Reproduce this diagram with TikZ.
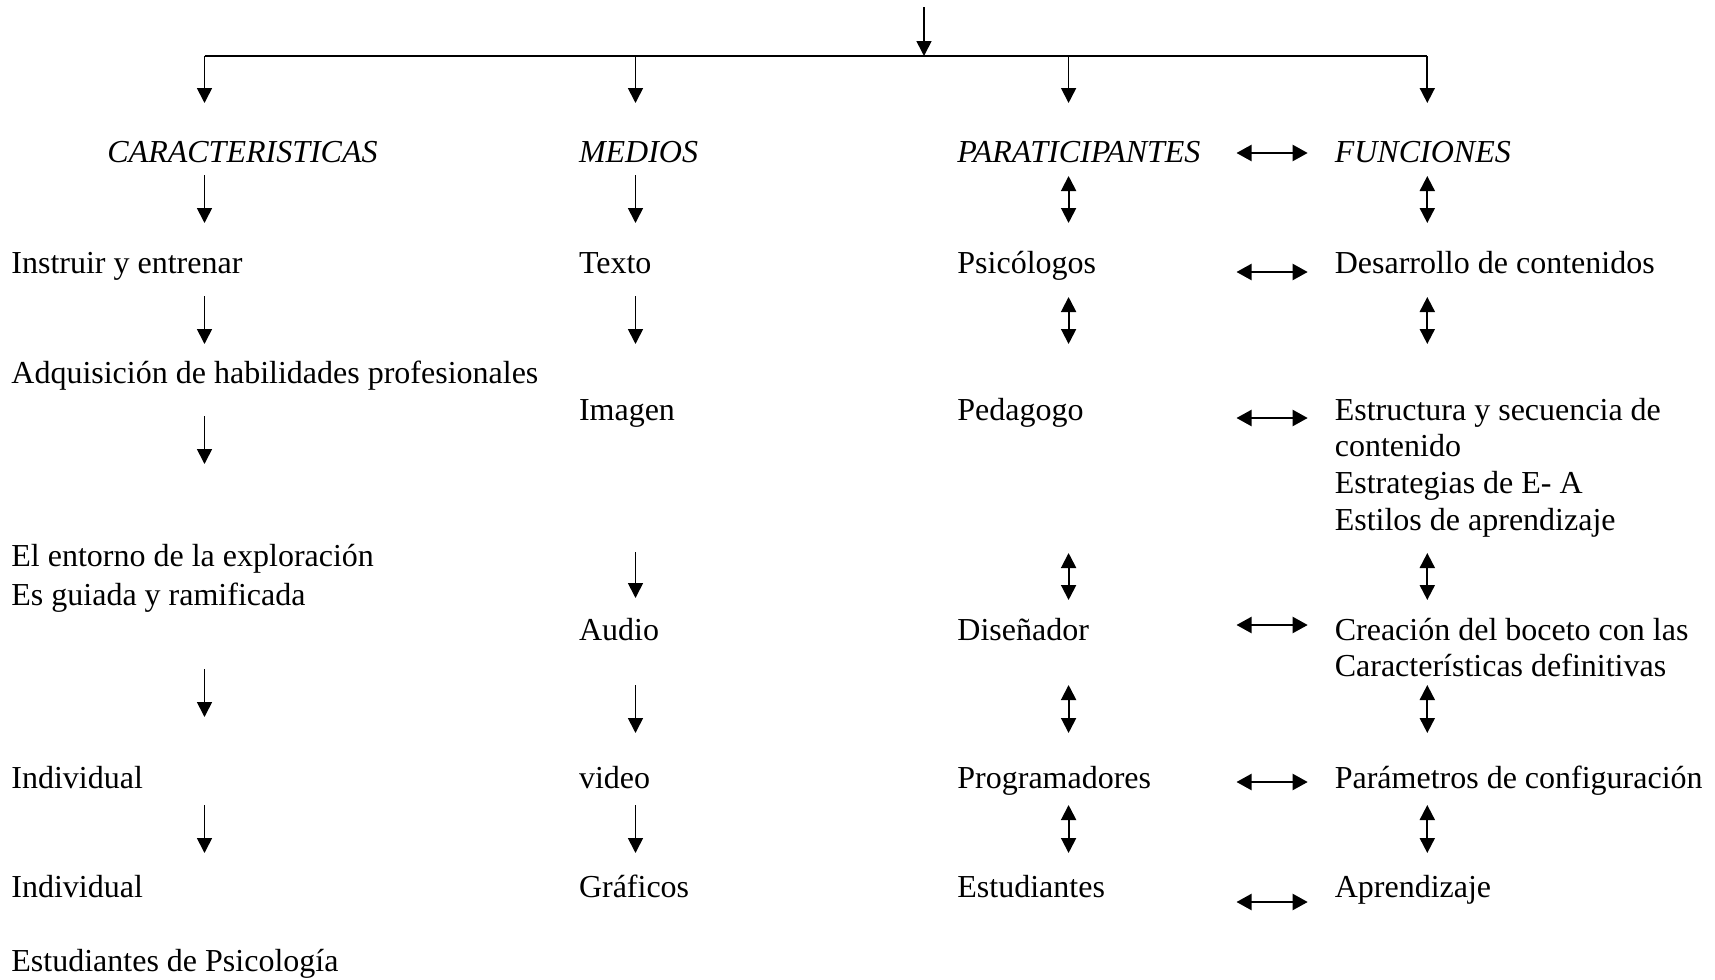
\documentclass[tikz,border=0pt]{standalone}
\usepackage{fontspec}
\setmainfont{Liberation Serif}
\usetikzlibrary{arrows.meta}
\begin{document}
\begin{tikzpicture}[x=0.5pt,y=-0.5pt,
  txt/.style={anchor=base west, inner sep=0pt, font=\fontsize{16}{18.35}\selectfont},
  head/.style={txt, font=\fontsize{16}{18.35}\selectfont\itshape},
  tip/.style={Triangle[length=7.5pt,width=7.5pt]},
  down/.style={line width=0.85pt, -{Triangle[length=7.5pt,width=7.5pt]}},
  both/.style={line width=0.95pt, {Triangle[length=7.5pt,width=7.5pt]}-{Triangle[length=7.5pt,width=7.5pt]}},
  link/.style={line width=1.05pt, {Triangle[length=7.5pt,width=8pt]}-{Triangle[length=7.5pt,width=8pt]}},
  bar/.style={line width=0.9pt}
]
\useasboundingbox (0,0) rectangle (1715,980);

% ---- top distribution ----
\coordinate (top) at (924,7);
\coordinate (hub) at (924,56);
\coordinate (barL) at (204.5,56);
\coordinate (barR) at (1427.3,56);
\draw[down] (top) -- (hub);
\draw[bar] (barL) -- (barR);
\foreach \n/\x in {dA/204.5, dB/635.5, dC/1068.6, dD/1427.3}{
  \coordinate (\n s) at (\x,56);
  \coordinate (\n e) at (\x,103);
  \draw[down] (\n s) -- (\n e);
}

% ---- column headings ----
\node[head] (hA) at (107,162.7) {CARACTERISTICAS};
\node[head] (hB) at (578.6,162.7) {MEDIOS};
\node[head] (hC) at (957,162.7) {PARATICIPANTES};
\node[head] (hD) at (1334.4,162.7) {FUNCIONES};

% ---- CARACTERISTICAS ----
\node[txt] (a1) at (11,273) {Instruir y entrenar};
\node[txt] (a2) at (11,383.3) {Adquisición de habilidades profesionales};
\node[txt] (a3) at (11,566.7) {El entorno de la exploración};
\node[txt] (a3b) at (11,605) {Es guiada y ramificada};
\node[txt] (a4) at (11,788.3) {Individual};
\node[txt] (a5) at (11,897.7) {Individual};
\node[txt] (a6) at (11,971) {Estudiantes de Psicología};

% ---- MEDIOS ----
\node[txt] (b1) at (578.6,273) {Texto};
\node[txt] (b2) at (578.6,420) {Imagen};
\node[txt] (b3) at (578.6,640) {Audio};
\node[txt] (b4) at (578.6,788.3) {video};
\node[txt] (b5) at (578.6,897.7) {Gráficos};

% ---- PARATICIPANTES ----
\node[txt] (c1) at (957,273) {Psicólogos};
\node[txt] (c2) at (957,420) {Pedagogo};
\node[txt] (c3) at (957,640) {Diseñador};
\node[txt] (c4) at (957,788.3) {Programadores};
\node[txt] (c5) at (957,897.7) {Estudiantes};

% ---- FUNCIONES ----
\node[txt] (f1) at (1334.4,273) {Desarrollo de contenidos};
\node[txt] (f2) at (1334.4,420) {Estructura y secuencia de};
\node[txt] (f2b) at (1334.4,456.7) {contenido};
\node[txt] (f2c) at (1334.4,493.3) {Estrategias de E- A};
\node[txt] (f2d) at (1334.4,530) {Estilos de aprendizaje};
\node[txt] (f3) at (1334.4,640) {Creación del boceto con las};
\node[txt] (f3b) at (1334.4,676.7) {Características definitivas};
\node[txt] (f4) at (1334.4,788.3) {Parámetros de configuración};
\node[txt] (f5) at (1334.4,897.7) {Aprendizaje};

% ---- one-way arrows in the first two columns ----
\foreach \n/\x/\ya/\yb in {
  vA1/204.5/175/223, vA2/204.5/296/344, vA3/204.5/416/464,
  vA4/204.5/669/717, vA5/204.5/805/853,
  vB1/635.5/175/223, vB2/635.5/296/344, vB3/635.5/552/598,
  vB4/635.5/685/733, vB5/635.5/805/853}{
  \coordinate (\n s) at (\x,\ya);
  \coordinate (\n e) at (\x,\yb);
  \draw[down] (\n s) -- (\n e);
}

% ---- two-way arrows in the last two columns ----
\foreach \n/\x/\ya/\yb in {
  vC1/1068.6/176/223, vC2/1068.6/297/344, vC3/1068.6/553/600,
  vC4/1068.6/685/733, vC5/1068.6/805/853,
  vD1/1427.3/176/223, vD2/1427.3/297/344, vD3/1427.3/553/600,
  vD4/1427.3/685/733, vD5/1427.3/805/853}{
  \coordinate (\n s) at (\x,\ya);
  \coordinate (\n e) at (\x,\yb);
  \draw[both] (\n s) -- (\n e);
}

% ---- links between participants and functions ----
\foreach \n/\y in {l0/153, l1/272, l2/418, l3/625, l4/782, l5/902}{
  \coordinate (\n s) at (1236.5,\y);
  \coordinate (\n e) at (1307.7,\y);
  \draw[link] (\n s) -- (\n e);
}
\end{tikzpicture}
\end{document}
